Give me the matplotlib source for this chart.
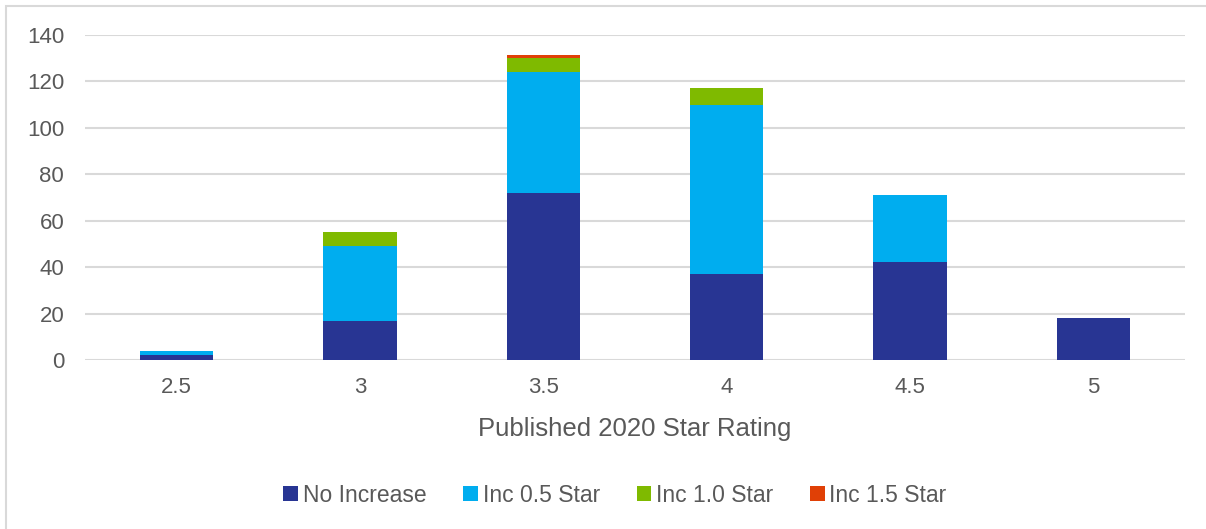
import numpy as np
import matplotlib.pyplot as plt
from matplotlib.patches import Rectangle

plt.rcParams['font.family'] = ['Liberation Sans', 'DejaVu Sans']

ratings = ['2.5', '3', '3.5', '4', '4.5', '5']
no_increase = [2, 17, 72, 37, 42, 18]
inc_05 = [2, 32, 52, 73, 29, 0]
inc_10 = [0, 6, 6, 7, 0, 0]
inc_15 = [0, 0, 1.2, 0, 0, 0]

series = [
    ('No Increase', no_increase, '#283593'),
    ('Inc 0.5 Star', inc_05, '#00adef'),
    ('Inc 1.0 Star', inc_10, '#7fba00'),
    ('Inc 1.5 Star', inc_15, '#e04006'),
]

fig = plt.figure(figsize=(12.06, 5.29), dpi=100)
ax = fig.add_axes([0.0705, 0.3195, 0.912, 0.6143])

x = np.arange(len(ratings))
bottom = np.zeros(len(ratings))
for name, vals, col in series:
    vals = np.array(vals, dtype=float)
    ax.bar(x, vals, 0.4, bottom=bottom, color=col, label=name, zorder=3)
    bottom += vals

ax.set_xlim(-0.5, len(ratings) - 0.5)
ax.set_ylim(0, 140)
ax.set_yticks(range(0, 141, 20))
ax.set_xticks(x)
ax.set_xticklabels(ratings)
ax.grid(axis='y', color='#d9d9d9', linewidth=1.5, zorder=0)
for s in ax.spines.values():
    s.set_visible(False)
ax.tick_params(length=0, labelsize=16, colors='#595959')
ax.tick_params(axis='x', pad=12)
ax.tick_params(axis='y', pad=15)
ax.set_xlabel('Published 2020 Star Rating', fontsize=18.5, color='#595959', labelpad=14)

leg = fig.legend(loc='center', bbox_to_anchor=(0.51, 0.064), ncol=4, frameon=False,
                 fontsize=16.5, handlelength=0.65, handleheight=0.65, handletextpad=0.2,
                 columnspacing=1.6)
for t in leg.get_texts():
    t.set_color('#595959')

# outer chart border
fig.patches.append(Rectangle((6 / 1206, -0.1), 1.2, 1 - 6 / 529 + 0.1,
                             transform=fig.transFigure, fill=False,
                             edgecolor='#d9d9d9', linewidth=1.5))

fig.savefig('out.png', dpi=100)
